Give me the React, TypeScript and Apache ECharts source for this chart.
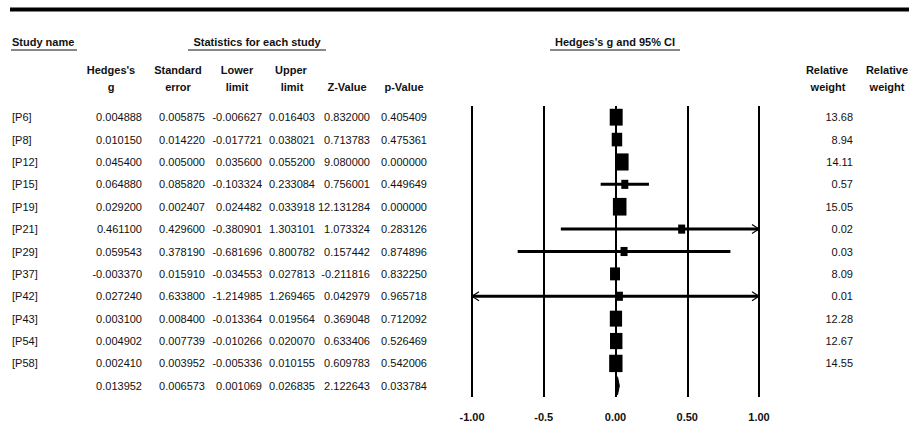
import React, { useEffect, useRef } from "react";
import * as echarts from "echarts";

const studyNames = ["[P6]", "[P8]", "[P12]", "[P15]", "[P19]", "[P21]", "[P29]", "[P37]", "[P42]", "[P43]", "[P54]", "[P58]", ""];
const hedgesG = [0.004888, 0.01015, 0.0454, 0.06488, 0.0292, 0.4611, 0.059543, -0.00337, 0.02724, 0.0031, 0.004902, 0.00241, 0.013952];
const stdErr = [0.005875, 0.01422, 0.005, 0.08582, 0.002407, 0.4296, 0.37819, 0.01591, 0.6338, 0.0084, 0.007739, 0.003952, 0.006573];
const lowerLimit = [-0.006627, -0.017721, 0.0356, -0.103324, 0.024482, -0.380901, -0.681696, -0.034553, -1.214985, -0.013364, -0.010266, -0.005336, 0.001069];
const upperLimit = [0.016403, 0.038021, 0.0552, 0.233084, 0.033918, 1.303101, 0.800782, 0.027813, 1.269465, 0.019564, 0.02007, 0.010155, 0.026835];
const zValue = [0.832, 0.713783, 9.08, 0.756001, 12.131284, 1.073324, 0.157442, -0.211816, 0.042979, 0.369048, 0.633406, 0.609783, 2.122643];
const pValue = [0.405409, 0.475361, 0.0, 0.449649, 0.0, 0.283126, 0.874896, 0.83225, 0.965718, 0.712092, 0.526469, 0.542006, 0.033784];
const relWeight = [13.68, 8.94, 14.11, 0.57, 15.05, 0.02, 0.03, 8.09, 0.01, 12.28, 12.67, 14.55];
const tickValues = [-1, -0.5, 0, 0.5, 1];
const tickLabels = ["-1.00", "-0.5", "0.00", "0.50", "1.00"];

const FONT = "'Liberation Sans', Arial, sans-serif";
const TXT = "#111";

export default function App() {
  const ref = useRef<HTMLDivElement>(null);
  useEffect(() => {
    if (!ref.current) return;
    const chart = echarts.init(ref.current, null, { renderer: "svg" });
    const rowIdx = studyNames.map((_, i) => String(i));
    const GL = 472;
    const GR = 759;

    const colAxis = (vals: string[], rightEdge: number) => ({
      type: "category",
      gridIndex: 0,
      inverse: true,
      position: "left",
      offset: GL - rightEdge,
      data: rowIdx,
      axisLine: { show: false },
      axisTick: { show: false },
      splitLine: { show: false },
      axisLabel: {
        interval: 0,
        margin: 0,
        align: "right",
        fontFamily: FONT,
        fontSize: 11,
        color: TXT,
        formatter: (_v: string, i: number) => vals[i] ?? "",
      },
    });

    const fmt6 = (a: number[]) => a.map((v) => v.toFixed(6));

    const yAxes: any[] = [
      {
        type: "category",
        gridIndex: 0,
        inverse: true,
        position: "left",
        offset: GL - 12,
        data: rowIdx,
        axisLine: { show: false },
        axisTick: { show: false },
        axisLabel: {
          interval: 0,
          margin: 0,
          align: "left",
          fontFamily: FONT,
          fontSize: 11,
          color: TXT,
          formatter: (_v: string, i: number) => studyNames[i] ?? "",
        },
      },
      colAxis(fmt6(hedgesG), 142),
      colAxis(fmt6(stdErr), 205),
      colAxis(fmt6(lowerLimit), 262),
      colAxis(fmt6(upperLimit), 315),
      colAxis(fmt6(zValue), 370),
      colAxis(fmt6(pValue), 427),
      {
        type: "category",
        gridIndex: 0,
        inverse: true,
        position: "right",
        offset: 853 - GR,
        data: rowIdx,
        axisLine: { show: false },
        axisTick: { show: false },
        axisLabel: {
          interval: 0,
          margin: 0,
          align: "right",
          fontFamily: FONT,
          fontSize: 11,
          color: TXT,
          formatter: (_v: string, i: number) => (relWeight[i] !== undefined ? relWeight[i].toFixed(2) : ""),
        },
      },
    ];

    const data = studyNames.map((_, i) => [
      i,
      hedgesG[i],
      lowerLimit[i],
      upperLimit[i],
      relWeight[i] !== undefined ? relWeight[i] : 0,
      i === studyNames.length - 1 ? 1 : 0,
    ]);

    const headerText = (text: string, x: number, y: number, align = "center") => ({
      type: "text",
      x,
      y,
      style: {
        text,
        fill: TXT,
        font: `bold 11px ${FONT}`,
        align,
        verticalAlign: "middle",
      },
    });
    const uline = (x1: number, x2: number, y: number) => ({
      type: "line",
      shape: { x1, y1: y, x2, y2: y },
      style: { stroke: "#111", lineWidth: 1 },
    });

    chart.setOption({
      animation: false,
      backgroundColor: "#fff",
      grid: { left: GL, right: 909 - GR, top: 106, bottom: 28, containLabel: false },
      xAxis: {
        type: "value",
        min: -1,
        max: 1,
        interval: 0.5,
        axisLine: { show: false },
        axisTick: { show: false },
        splitLine: { show: true, lineStyle: { color: "#000", width: 2 } },
        axisLabel: {
          margin: 14,
          fontFamily: FONT,
          fontSize: 11,
          fontWeight: "bold",
          color: TXT,
          formatter: (v: number) => {
            const k = tickValues.findIndex((t) => Math.abs(t - v) < 1e-9);
            return k >= 0 ? tickLabels[k] : "";
          },
        },
      },
      yAxis: yAxes,
      series: [
        {
          type: "custom",
          xAxisIndex: 0,
          yAxisIndex: 0,
          encode: { x: [1, 2, 3], y: 0 },
          data,
          clip: false,
          renderItem: (_p: any, api: any) => {
            const row = api.value(0);
            const g = api.value(1);
            const lo = api.value(2);
            const hi = api.value(3);
            const w = api.value(4);
            const summary = api.value(5) === 1;
            const y = api.coord([0, row])[1];
            const xg = api.coord([g, row])[0];
            const xl = api.coord([Math.max(lo, -1), row])[0];
            const xh = api.coord([Math.min(hi, 1), row])[0];
            if (summary) {
              return {
                type: "polygon",
                shape: { points: [[xl, y], [xg, y - 9], [xh, y], [xg, y + 9]] },
                style: { fill: "#000", stroke: "#000", lineWidth: 1 },
              };
            }
            const children: any[] = [
              {
                type: "line",
                shape: { x1: xl, y1: y, x2: xh, y2: y },
                style: { stroke: "#000", lineWidth: 3 },
              },
            ];
            const sw = Math.max(7, 3.5 * Math.sqrt(w));
            const sh = sw * 1.3;
            children.push({
              type: "rect",
              shape: { x: xg - sw / 2, y: y - sh / 2, width: sw, height: sh },
              style: { fill: "#000" },
            });
            if (hi > 1) {
              children.push({
                type: "polyline",
                shape: { points: [[xh - 7, y - 4.5], [xh, y], [xh - 7, y + 4.5]] },
                style: { stroke: "#000", lineWidth: 1.2, fill: null },
              });
            }
            if (lo < -1) {
              children.push({
                type: "polyline",
                shape: { points: [[xl + 7, y - 4.5], [xl, y], [xl + 7, y + 4.5]] },
                style: { stroke: "#000", lineWidth: 1.2, fill: null },
              });
            }
            return { type: "group", children };
          },
        },
      ],
      graphic: [
        { type: "rect", shape: { x: 10, y: 7.5, width: 899, height: 4 }, style: { fill: "#000" } },
        headerText("Study name", 12, 42, "left"),
        uline(11, 77, 50),
        headerText("Statistics for each study", 257, 42),
        uline(188, 326, 50),
        headerText("Hedges's g and 95% CI", 615, 42),
        uline(550, 680, 50),
        headerText("Hedges's", 111, 70),
        headerText("g", 111, 87),
        headerText("Standard", 178, 70),
        headerText("error", 178, 87),
        headerText("Lower", 237, 70),
        headerText("limit", 237, 87),
        headerText("Upper", 291, 70),
        headerText("limit", 292, 87),
        headerText("Z-Value", 347, 87),
        headerText("p-Value", 404, 87),
        headerText("Relative", 827, 70),
        headerText("weight", 828, 87),
        headerText("Relative", 887, 70),
        headerText("weight", 887, 87),
      ],
    });
    return () => chart.dispose();
  }, []);
  return <div ref={ref} style={{ position: "fixed", left: 0, top: 0, width: 909, height: 425 }} />;
}
